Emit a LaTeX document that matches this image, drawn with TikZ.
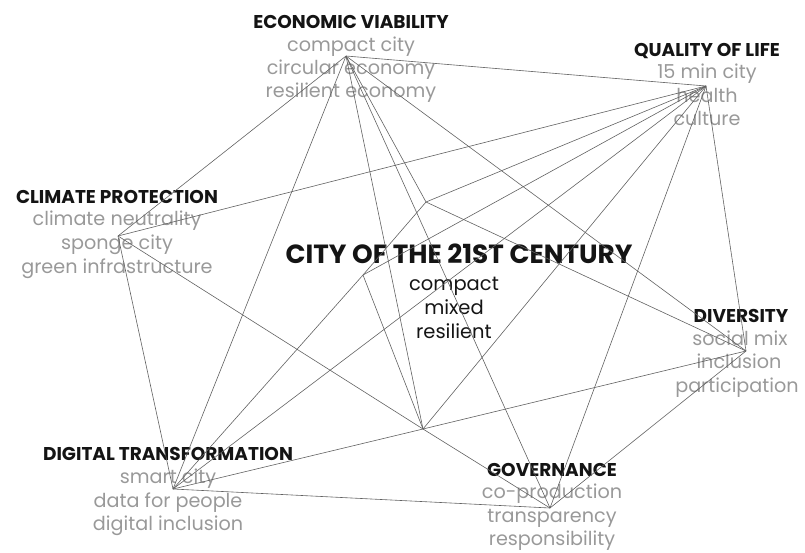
\documentclass[tikz,border=0pt]{standalone}
\usepackage{fontspec}
\setmainfont{Poppins}
\usepackage{tikz}
\usepackage{xcolor}
\definecolor{linegray}{gray}{0.38}
\definecolor{itemgray}{gray}{0.6}
\definecolor{headblack}{gray}{0.08}

\begin{document}
\begin{tikzpicture}[x=1pt,y=-1pt,
  link/.style={draw=linegray,line width=0.6pt},
  head/.style={font=\fontsize{18.5}{20}\selectfont\bfseries,text=headblack,inner sep=0pt,anchor=base},
  item/.style={font=\fontsize{19.2}{20}\selectfont,text=itemgray,inner sep=0pt,anchor=base},
  title/.style={font=\fontsize{26.3}{28}\selectfont\bfseries,text=headblack,inner sep=0pt,anchor=base},
  core/.style={font=\fontsize{19.5}{20}\selectfont,text=headblack,inner sep=0pt,anchor=base}]
  \useasboundingbox (0,0) rectangle (805,552);
  % topics
  \node[head] (ecohead) at (351,28) {ECONOMIC VIABILITY};
  \node[item] (eco1) at (351,51) {compact city};
  \node[item] (eco2) at (351,74) {circular economy};
  \node[item] (eco3) at (351,97) {resilient economy};
  \node[head] (qolhead) at (707,56) {QUALITY OF LIFE};
  \node[item] (qol1) at (707,78) {15 min city};
  \node[item] (qol2) at (707,102) {health};
  \node[item] (qol3) at (707,125) {culture};
  \node[head] (climhead) at (117,203) {CLIMATE PROTECTION};
  \node[item] (clim1) at (117,225) {climate neutrality};
  \node[item] (clim2) at (117,249) {sponge city};
  \node[item] (clim3) at (117,273) {green infrastructure};
  \node[head] (divhead) at (741,322) {DIVERSITY};
  \node[item] (div1) at (740,345) {social mix};
  \node[item] (div2) at (739,368) {inclusion};
  \node[item] (div3) at (737,392) {participation};
  \node[head] (digihead) at (168,460) {DIGITAL TRANSFORMATION};
  \node[item] (digi1) at (168,483) {smart city};
  \node[item] (digi2) at (168,507) {data for people};
  \node[item] (digi3) at (168,530) {digital inclusion};
  \node[head] (govhead) at (552,476) {GOVERNANCE};
  \node[item] (gov1) at (552,498) {co-production};
  \node[item] (gov2) at (552,522) {transparency};
  \node[item] (gov3) at (552,545) {responsibility};
  % centre
  \node[title] (cityhead) at (459,263) {CITY OF THE 21ST CENTURY};
  \node[core] (city1) at (454,290) {compact};
  \node[core] (city2) at (454,314) {mixed};
  \node[core] (city3) at (454,338) {resilient};
  % hubs
  \coordinate (eco) at (346,56);
  \coordinate (qol) at (706,86);
  \coordinate (clim) at (118,236);
  \coordinate (div) at (746,351);
  \coordinate (digi) at (173,489);
  \coordinate (gov) at (550,508);
  \coordinate (hubn) at (426,202);
  \coordinate (hubs) at (423,429);
  \coordinate (hubw) at (363,275);
  % web
  \draw[link] (eco) -- (clim);
  \draw[link] (eco) -- (digi);
  \draw[link] (eco) -- (qol);
  \draw[link] (eco) -- (div);
  \draw[link] (eco) -- (hubs);
  \draw[link] (eco) -- (gov);
  \draw[link] (eco) -- (hubn);
  \draw[link] (qol) -- (clim);
  \draw[link] (qol) -- (hubn);
  \draw[link] (qol) -- (hubw);
  \draw[link] (qol) -- (digi);
  \draw[link] (qol) -- (hubs);
  \draw[link] (qol) -- (gov);
  \draw[link] (qol) -- (div);
  \draw[link] (clim) -- (digi);
  \draw[link] (clim) -- (hubs);
  \draw[link] (hubs) -- (gov);
  \draw[link] (digi) -- (hubw);
  \draw[link] (hubw) -- (hubn);
  \draw[link] (digi) -- (hubs);
  \draw[link] (hubs) -- (div);
  \draw[link] (digi) -- (gov);
  \draw[link] (hubn) -- (div);
  \draw[link] (hubw) -- (hubs);
  \draw[link] (div) -- (gov);
\end{tikzpicture}
\end{document}
